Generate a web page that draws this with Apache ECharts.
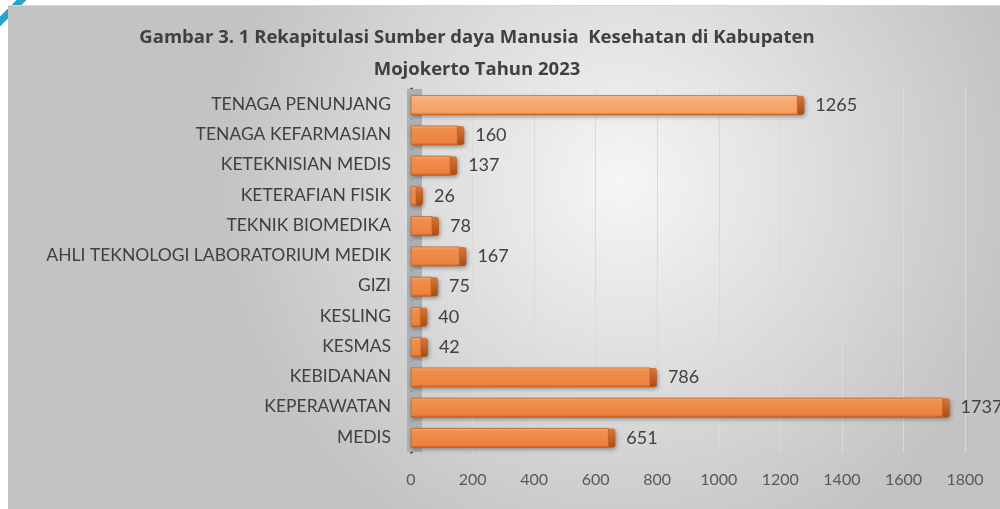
<!DOCTYPE html>
<html>
<head>
<meta charset="utf-8">
<script src="https://cdn.jsdelivr.net/npm/echarts/dist/echarts.min.js"></script>
<style>
html, body { margin: 0; padding: 0; background: #fff; width: 1000px; height: 509px; overflow: hidden; position: relative; }
#corner { position: absolute; left: 6px; top: -10px; width: 7px; height: 44px; background: #29a3cc; transform: rotate(45deg); }
#chart { position: absolute; left: 8px; top: 5px; width: 992px; height: 504px; border-top: 1px solid #d6d6d6; box-sizing: border-box; }
</style>
</head>
<body>
<div id="corner"></div>
<div id="chart"></div>
<script>
// kategori dari bawah ke atas (MEDIS paling bawah)
var categories = ['MEDIS', 'KEPERAWATAN', 'KEBIDANAN', 'KESMAS', 'KESLING', 'GIZI',
    'AHLI TEKNOLOGI LABORATORIUM MEDIK', 'TEKNIK BIOMEDIKA', 'KETERAFIAN FISIK',
    'KETEKNISIAN MEDIS', 'TENAGA KEFARMASIAN', 'TENAGA PENUNJANG'];
var values = [651, 1737, 786, 42, 40, 75, 167, 78, 26, 137, 160, 1265];
var xMin = 0, xMax = 1800, xStep = 200;

var FONT = 'Lato';
var myChart = echarts.init(document.getElementById('chart'));

var seriesData = [];
for (var i = 0; i < values.length; i++) {
    seriesData.push([values[i], i]);
}

function frontGrad(top) {
    if (top) {
        return new echarts.graphic.LinearGradient(0, 0, 0, 1, [
            {offset: 0, color: '#fbc79e'},
            {offset: 0.18, color: '#f8ad75'},
            {offset: 0.85, color: '#f5a267'},
            {offset: 1, color: '#d3712f'}
        ]);
    }
    return new echarts.graphic.LinearGradient(0, 0, 0, 1, [
        {offset: 0, color: '#f6ad78'},
        {offset: 0.18, color: '#f08e4d'},
        {offset: 0.85, color: '#ec833f'},
        {offset: 1, color: '#c9621f'}
    ]);
}

function renderItem(params, api) {
    var v = api.value(0);
    var idx = api.value(1);
    var p0 = api.coord([0, idx]);
    var p1 = api.coord([v, idx]);
    var band = api.size([0, 1])[1];
    var h = 19, cap = 7;
    var y0 = p0[1] - h / 2 + 1;
    var xs = p0[0];
    var xe = p1[0] + 4;
    var isTop = idx === categories.length - 1;
    return {
        type: 'group',
        children: [
            // dinding belakang 3D
            {type: 'rect', shape: {x: p0[0] - 4, y: p0[1] - band / 2, width: 15, height: band},
                style: {fill: '#abb0b5'}},
            // badan + ujung gelap
            {type: 'rect', shape: {x: xs, y: y0, width: xe - xs, height: h, r: [0, 3, 3, 0]},
                style: {
                    fill: new echarts.graphic.LinearGradient(0, 0, 0, 1, [
                        {offset: 0, color: '#d9773a'}, {offset: 1, color: '#a94d16'}
                    ]),
                    shadowBlur: 4, shadowColor: 'rgba(0,0,0,0.35)', shadowOffsetX: 1, shadowOffsetY: 2
                }},
            // muka depan
            {type: 'rect', shape: {x: xs, y: y0, width: Math.max(xe - xs - cap, 1), height: h},
                style: {fill: frontGrad(isTop), stroke: 'rgba(196,92,30,0.7)', lineWidth: 1}},
            {type: 'text', style: {
                x: xe + 11, y: p0[1] + 1, text: String(v),
                fontSize: 18, fontFamily: FONT, fill: '#404040', verticalAlign: 'middle'
            }}
        ]
    };
}

var option = {
    backgroundColor: {
        type: 'radial', x: 0.62, y: 0.35, r: 0.8,
        colorStops: [
            {offset: 0, color: '#f6f6f6'},
            {offset: 1, color: '#c3c3c3'}
        ]
    },
    title: {
        text: 'Gambar 3. 1 Rekapitulasi Sumber daya Manusia  Kesehatan di Kabupaten\nMojokerto Tahun 2023',
        left: 469,
        top: 16,
        textAlign: 'center',
        padding: 0,
        textStyle: {
            fontFamily: 'Open Sans', fontSize: 18.5, fontWeight: 'bold', color: '#404040', lineHeight: 32
        }
    },
    grid: {left: 403, right: 35, top: 83, bottom: 57},
    xAxis: {
        type: 'value',
        min: xMin, max: xMax, interval: xStep,
        axisLine: {show: false},
        axisTick: {show: false},
        axisLabel: {
            fontFamily: FONT, fontSize: 16, color: '#595959', margin: 20,
            formatter: function (v) { return String(v); }
        },
        splitLine: {lineStyle: {color: '#dadada', width: 1}}
    },
    yAxis: {
        type: 'category',
        data: categories,
        offset: 6,
        axisLine: {show: true, lineStyle: {color: '#404040', width: 3}},
        axisTick: {show: false},
        axisLabel: {fontFamily: FONT, fontSize: 17.5, color: '#404040', margin: 14}
    },
    series: [{
        type: 'custom',
        renderItem: renderItem,
        encode: {x: 0, y: 1},
        data: seriesData
    }]
};

myChart.setOption(option);
</script>
</body>
</html>
